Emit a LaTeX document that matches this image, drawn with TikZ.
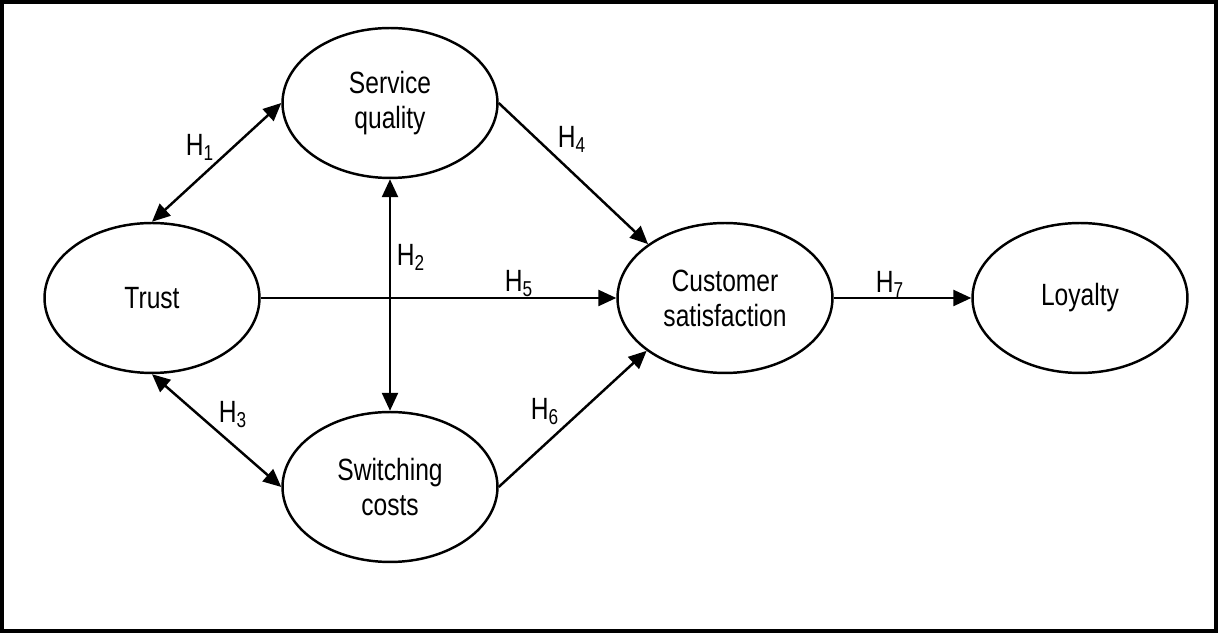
\documentclass[tikz,border=0pt]{standalone}
\usepackage{fontspec}
\setmainfont{Liberation Sans}[FakeStretch=0.8]
\usetikzlibrary{arrows.meta,shapes.geometric}

\begin{document}
\begin{tikzpicture}[x=0.02cm,y=-0.02cm,
  font=\fontsize{17.5}{20}\selectfont,
  construct/.style={draw,ellipse,line width=1.4pt,inner sep=0pt,minimum width=4.3cm,minimum height=3cm,align=center},
  hyp/.style={line width=1.4pt,-{Triangle[length=0.36cm,width=0.32cm]}},
  hypboth/.style={line width=1.4pt,{Triangle[length=0.36cm,width=0.32cm]}-{Triangle[length=0.36cm,width=0.32cm]}},
  hlabel/.style={anchor=base,inner sep=0pt}]
\useasboundingbox (0,0) rectangle (1218,634);
\draw[line width=1.8pt] (2,2) rectangle (1216,631);
% constructs
\node[construct] (trust) at (152,298) {Trust};
\node[construct] (sq) at (390,103) {Service\\quality};
\node[construct] (sc) at (390,487) {Switching\\costs};
\node[construct] (cs) at (725,298) {Customer\\satisfaction};
\node[construct] (loyal) at (1080,298) {Loyalty};
% hypotheses
\draw[hypboth] (trust.north) -- (sq.west);
\draw[hypboth] (sq.south) -- (sc.north);
\draw[hypboth] (trust.south) -- (sc.west);
\draw[hyp] (sq.east) -- (cs.145);
\draw[hyp] (trust.east) -- (cs.west);
\draw[hyp] (sc.east) -- (cs.214);
\draw[hyp] (cs.east) -- (loyal.west);
\node[hlabel] (h1) at (200,156) {H\textsubscript{1}};
\node[hlabel] (h2) at (411,266) {H\textsubscript{2}};
\node[hlabel] (h3) at (233,423) {H\textsubscript{3}};
\node[hlabel] (h4) at (572,148) {H\textsubscript{4}};
\node[hlabel] (h5) at (519,292) {H\textsubscript{5}};
\node[hlabel] (h6) at (545,420) {H\textsubscript{6}};
\node[hlabel] (h7) at (890,293) {H\textsubscript{7}};
\end{tikzpicture}
\end{document}
